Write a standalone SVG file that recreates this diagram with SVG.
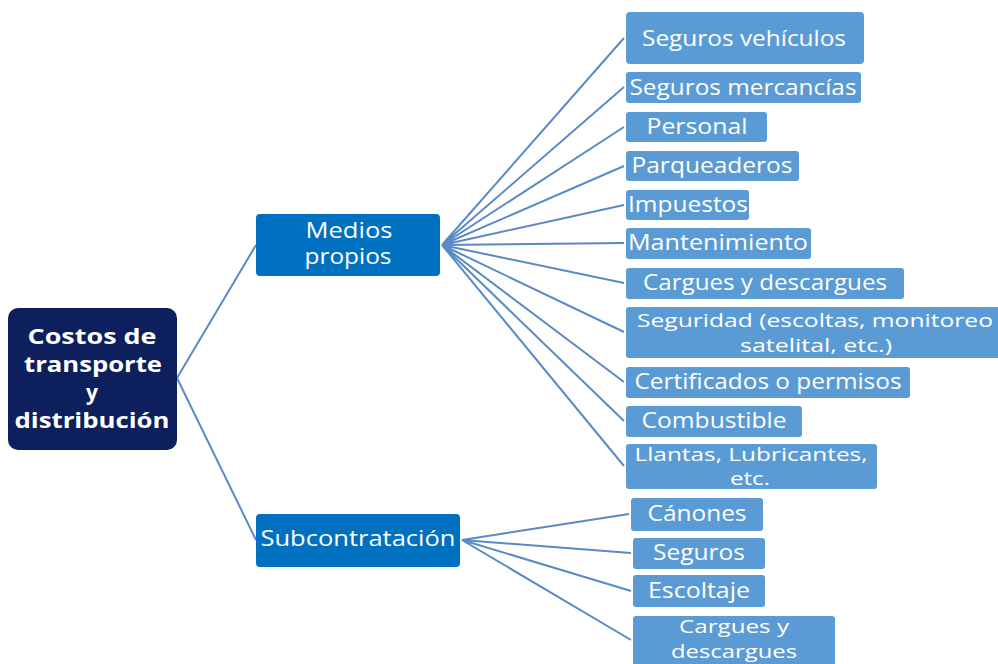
<svg xmlns="http://www.w3.org/2000/svg" width="998" height="664" viewBox="0 0 998 664">
  <style>
    .root { fill: #0d1f5c; }
    .mid { fill: #0070c0; }
    .leaf { fill: #5b9bd5; }
    .conn { stroke: #5a8ac6; stroke-width: 2; fill: none; }
    text { font-family: "Open Sans", "Liberation Sans", sans-serif; fill: #ffffff; text-anchor: middle; }
    .t { font-size: 21px; }
    .t2 { font-size: 19px; }
    .tb { font-size: 21px; font-weight: bold; }
  </style>
  <rect width="998" height="664" fill="#ffffff"/>

  <!-- connectors -->
  <g id="connectors">
    <path class="conn" d="M177 378 L256 245 M177 378 L256 540"/>
    <path class="conn" d="M442 245 L624 38 M442 245 L624 87 M442 245 L624 127 M442 245 L624 166 M442 245 L624 205 M442 245 L624 243 M442 245 L624 283 M442 245 L624 332 M442 245 L624 382 M442 245 L624 421 M442 245 L624 466"/>
    <path class="conn" d="M462 540 L629 514 M462 540 L631 553 M462 540 L631 591 M462 540 L631 640"/>
  </g>

  <g id="root">
    <rect class="root" x="8" y="308" width="169" height="142" rx="10"/>
    <text class="tb" x="92" y="344" textLength="129" lengthAdjust="spacingAndGlyphs">Costos de</text>
    <text class="tb" x="93" y="372" textLength="138" lengthAdjust="spacingAndGlyphs">transporte</text>
    <text class="tb" x="92" y="400">y</text>
    <text class="tb" x="92" y="428" textLength="155" lengthAdjust="spacingAndGlyphs">distribución</text>
  </g>

  <g id="medios">
    <rect class="mid" x="256" y="214" width="184" height="62" rx="4"/>
    <text class="t" x="349" y="238" textLength="87" lengthAdjust="spacingAndGlyphs">Medios</text>
    <text class="t" x="348" y="264" textLength="87" lengthAdjust="spacingAndGlyphs">propios</text>
  </g>

  <g id="subcontratacion">
    <rect class="mid" x="256" y="514" width="204" height="53" rx="4"/>
    <text class="t" x="358" y="546" textLength="195" lengthAdjust="spacingAndGlyphs">Subcontratación</text>
  </g>

  <g id="seguros-vehiculos">
    <rect class="leaf" x="626" y="12" width="238" height="52" rx="4"/>
    <text class="t" x="744" y="46" textLength="204" lengthAdjust="spacingAndGlyphs">Seguros vehículos</text>
  </g>
  <g id="seguros-mercancias">
    <rect class="leaf" x="626" y="72" width="235" height="31" rx="3"/>
    <text class="t" x="743" y="95" textLength="227" lengthAdjust="spacingAndGlyphs">Seguros mercancías</text>
  </g>
  <g id="personal">
    <rect class="leaf" x="626" y="112" width="141" height="30" rx="3"/>
    <text class="t" x="697" y="134" textLength="101" lengthAdjust="spacingAndGlyphs">Personal</text>
  </g>
  <g id="parqueaderos">
    <rect class="leaf" x="626" y="151" width="173" height="30" rx="3"/>
    <text class="t" x="712" y="173" textLength="161" lengthAdjust="spacingAndGlyphs">Parqueaderos</text>
  </g>
  <g id="impuestos">
    <rect class="leaf" x="626" y="190" width="123" height="30" rx="3"/>
    <text class="t" x="688" y="212" textLength="120" lengthAdjust="spacingAndGlyphs">Impuestos</text>
  </g>
  <g id="mantenimiento">
    <rect class="leaf" x="626" y="228" width="185" height="31" rx="3"/>
    <text class="t" x="718" y="250" textLength="180" lengthAdjust="spacingAndGlyphs">Mantenimiento</text>
  </g>
  <g id="cargues-descargues">
    <rect class="leaf" x="626" y="268" width="278" height="31" rx="3"/>
    <text class="t" x="765" y="290" textLength="244" lengthAdjust="spacingAndGlyphs">Cargues y descargues</text>
  </g>
  <g id="seguridad">
    <rect class="leaf" x="626" y="307" width="374" height="51" rx="3"/>
    <text class="t2" x="815" y="327" textLength="356" lengthAdjust="spacingAndGlyphs">Seguridad (escoltas, monitoreo</text>
    <text class="t2" x="816" y="352" textLength="152" lengthAdjust="spacingAndGlyphs">satelital, etc.)</text>
  </g>
  <g id="certificados">
    <rect class="leaf" x="626" y="367" width="284" height="31" rx="3"/>
    <text class="t" x="768" y="389" textLength="267" lengthAdjust="spacingAndGlyphs">Certificados o permisos</text>
  </g>
  <g id="combustible">
    <rect class="leaf" x="626" y="406" width="176" height="31" rx="3"/>
    <text class="t" x="714" y="428" textLength="145" lengthAdjust="spacingAndGlyphs">Combustible</text>
  </g>
  <g id="llantas">
    <rect class="leaf" x="626" y="444" width="251" height="45" rx="3"/>
    <text class="t2" x="751" y="461" textLength="233" lengthAdjust="spacingAndGlyphs">Llantas, Lubricantes,</text>
    <text class="t2" x="750" y="485" textLength="40" lengthAdjust="spacingAndGlyphs">etc.</text>
  </g>

  <g id="canones">
    <rect class="leaf" x="631" y="498" width="132" height="33" rx="3"/>
    <text class="t" x="697" y="521" textLength="99" lengthAdjust="spacingAndGlyphs">Cánones</text>
  </g>
  <g id="seguros">
    <rect class="leaf" x="633" y="538" width="132" height="31" rx="3"/>
    <text class="t" x="699" y="560" textLength="92" lengthAdjust="spacingAndGlyphs">Seguros</text>
  </g>
  <g id="escoltaje">
    <rect class="leaf" x="633" y="575" width="132" height="32" rx="3"/>
    <text class="t" x="699" y="598" textLength="102" lengthAdjust="spacingAndGlyphs">Escoltaje</text>
  </g>
  <g id="cargues-descargues-sub">
    <rect class="leaf" x="633" y="616" width="202" height="60" rx="3"/>
    <text class="t2" x="734" y="633" textLength="110" lengthAdjust="spacingAndGlyphs">Cargues y</text>
    <text class="t2" x="734" y="658" textLength="126" lengthAdjust="spacingAndGlyphs">descargues</text>
  </g>
</svg>
